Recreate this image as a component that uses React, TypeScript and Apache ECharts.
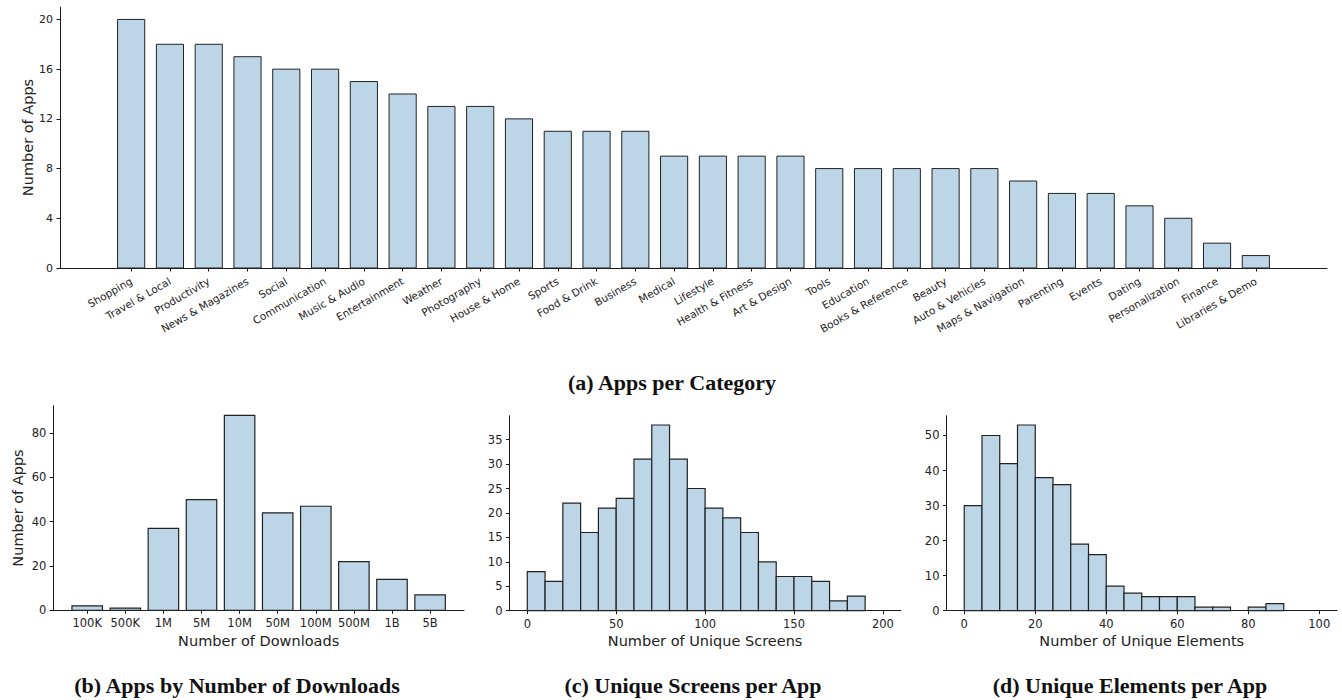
import React, { useEffect, useRef } from "react";
import * as echarts from "echarts";

// ---- data ----
const categories = [
  "Shopping", "Travel & Local", "Productivity", "News & Magazines", "Social",
  "Communication", "Music & Audio", "Entertainment", "Weather", "Photography",
  "House & Home", "Sports", "Food & Drink", "Business", "Medical",
  "Lifestyle", "Health & Fitness", "Art & Design", "Tools", "Education",
  "Books & Reference", "Beauty", "Auto & Vehicles", "Maps & Navigation", "Parenting",
  "Events", "Dating", "Personalization", "Finance", "Libraries & Demo",
];
const appsPerCategory = [
  20, 18, 18, 17, 16, 16, 15, 14, 13, 13,
  12, 11, 11, 11, 9, 9, 9, 9, 8, 8,
  8, 8, 8, 7, 6, 6, 5, 4, 2, 1,
];
const categoryYTicks = [0, 4, 8, 12, 16, 20];

const downloadBuckets = ["100K", "500K", "1M", "5M", "10M", "50M", "100M", "500M", "1B", "5B"];
const appsPerBucket = [2, 1, 37, 50, 88, 44, 47, 22, 14, 7];
const downloadYTicks = [0, 20, 40, 60, 80];

const screenBinWidth = 10;
const screenCounts = [8, 6, 22, 16, 21, 23, 31, 38, 31, 25, 21, 19, 16, 10, 7, 7, 6, 2, 3];
const screenXTicks = [0, 50, 100, 150, 200];
const screenYTicks = [0, 5, 10, 15, 20, 25, 30, 35];

const elementBinWidth = 5;
const elementCounts = [30, 50, 42, 53, 38, 36, 19, 16, 7, 5, 4, 4, 4, 1, 1, 0, 1, 2];
const elementXTicks = [0, 20, 40, 60, 80, 100];
const elementYTicks = [0, 10, 20, 30, 40, 50];

// ---- styling ----
const FONT = "DejaVu Sans";
const CAPTION_FONT = "Liberation Serif";
const INK = "#1a1a1a";
const FILL = "#bcd6e8";
const EDGE = "#222222";

// bars as [left, right, height] rectangles
const categoryRects = (values: number[], width: number) =>
  values.map((v, i) => [i - width / 2, i + width / 2, v]);
const histogramRects = (counts: number[], binWidth: number) =>
  counts.map((c, i) => [i * binWidth, (i + 1) * binWidth, c]);

const renderRect = (lineWidth: number) => (params: any, api: any) => {
  const x0 = api.value(0);
  const x1 = api.value(1);
  const v = api.value(2);
  if (!v) return null;
  const top = api.coord([x0, v]);
  const base = api.coord([x1, 0]);
  return {
    type: "rect",
    shape: { x: top[0], y: top[1], width: base[0] - top[0], height: base[1] - top[1] },
    style: { fill: FILL, stroke: EDGE, lineWidth },
  };
};

const valueAxis = (
  gridIndex: number,
  min: number,
  max: number,
  ticks: number[],
  extra: any = {},
  labelExtra: any = {}
) => ({
  type: "value",
  gridIndex,
  min,
  max,
  splitLine: { show: false },
  axisLine: { show: true, onZero: false, lineStyle: { color: INK, width: 1 } },
  axisTick: { show: true, length: 3.5, customValues: ticks, lineStyle: { color: INK, width: 1 } },
  axisLabel: {
    customValues: ticks,
    fontFamily: FONT,
    fontSize: 11.5,
    color: "#222",
    margin: 7,
    ...labelExtra,
  },
  nameMoveOverlap: false,
  nameTextStyle: { fontFamily: FONT, fontSize: 14.5, color: "#222" },
  ...extra,
});

const caption = (text: string, x: number, y: number) => ({
  type: "text",
  x,
  y,
  style: {
    text,
    fontFamily: CAPTION_FONT,
    fontWeight: "bold",
    fontSize: 22,
    fill: "#111",
    textAlign: "center",
    textVerticalAlign: "middle",
  },
});

export default function App() {
  const ref = useRef<HTMLDivElement>(null);

  useEffect(() => {
    if (!ref.current) return;
    const chart = echarts.init(ref.current, null, { renderer: "svg" });
    const categoryIdx = categories.map((_, i) => i);
    const bucketIdx = downloadBuckets.map((_, i) => i);

    chart.setOption({
      animation: false,
      backgroundColor: "#ffffff",
      grid: [
        { left: 60, right: 15, top: 7, bottom: 432, outerBoundsMode: "none" },
        { left: 53.3, right: 878, top: 405.7, bottom: 89.7, outerBoundsMode: "none" },
        { left: 509.5, right: 441.3, top: 415.7, bottom: 89.3, outerBoundsMode: "none" },
        { left: 946.5, right: 5, top: 415.7, bottom: 89.3, outerBoundsMode: "none" },
      ],
      xAxis: [
        valueAxis(0, -1.835, 30.835, categoryIdx, {}, {
          formatter: (v: number) => categories[Math.round(v)] ?? "",
          rotate: 30,
          fontSize: 10.5,
          margin: 12,
        }),
        valueAxis(1, -0.89, 9.89, bucketIdx, {
          name: "Number of Downloads",
          nameLocation: "middle",
          nameGap: 23,
        }, {
          formatter: (v: number) => downloadBuckets[Math.round(v)] ?? "",
        }),
        valueAxis(2, -10, 210, screenXTicks, {
          name: "Number of Unique Screens",
          nameLocation: "middle",
          nameGap: 23,
        }),
        valueAxis(3, -5, 105, elementXTicks, {
          name: "Number of Unique Elements",
          nameLocation: "middle",
          nameGap: 23,
        }),
      ],
      yAxis: [
        valueAxis(0, 0, 21, categoryYTicks, {
          name: "Number of Apps",
          nameLocation: "middle",
          nameGap: 25,
        }, { fontSize: 11 }),
        valueAxis(1, 0, 92.4, downloadYTicks, {
          name: "Number of Apps",
          nameLocation: "middle",
          nameGap: 28,
        }),
        valueAxis(2, 0, 39.9, screenYTicks),
        valueAxis(3, 0, 55.65, elementYTicks),
      ],
      series: [
        {
          type: "custom",
          xAxisIndex: 0,
          yAxisIndex: 0,
          renderItem: renderRect(1),
          encode: { x: [0, 1], y: 2 },
          data: categoryRects(appsPerCategory, 0.7),
        },
        {
          type: "custom",
          xAxisIndex: 1,
          yAxisIndex: 1,
          renderItem: renderRect(1.2),
          encode: { x: [0, 1], y: 2 },
          data: categoryRects(appsPerBucket, 0.8),
        },
        {
          type: "custom",
          xAxisIndex: 2,
          yAxisIndex: 2,
          renderItem: renderRect(1.2),
          encode: { x: [0, 1], y: 2 },
          data: histogramRects(screenCounts, screenBinWidth),
        },
        {
          type: "custom",
          xAxisIndex: 3,
          yAxisIndex: 3,
          renderItem: renderRect(1.2),
          encode: { x: [0, 1], y: 2 },
          data: histogramRects(elementCounts, elementBinWidth),
        },
      ],
      graphic: [
        caption("(a) Apps per Category", 672, 382),
        caption("(b) Apps by Number of Downloads", 237, 685),
        caption("(c) Unique Screens per App", 693, 685),
        caption("(d) Unique Elements per App", 1130, 685),
      ],
    });

    return () => chart.dispose();
  }, []);

  return (
    <div
      ref={ref}
      style={{ position: "fixed", left: 0, top: 0, width: 1342, height: 700, background: "#fff" }}
    />
  );
}
